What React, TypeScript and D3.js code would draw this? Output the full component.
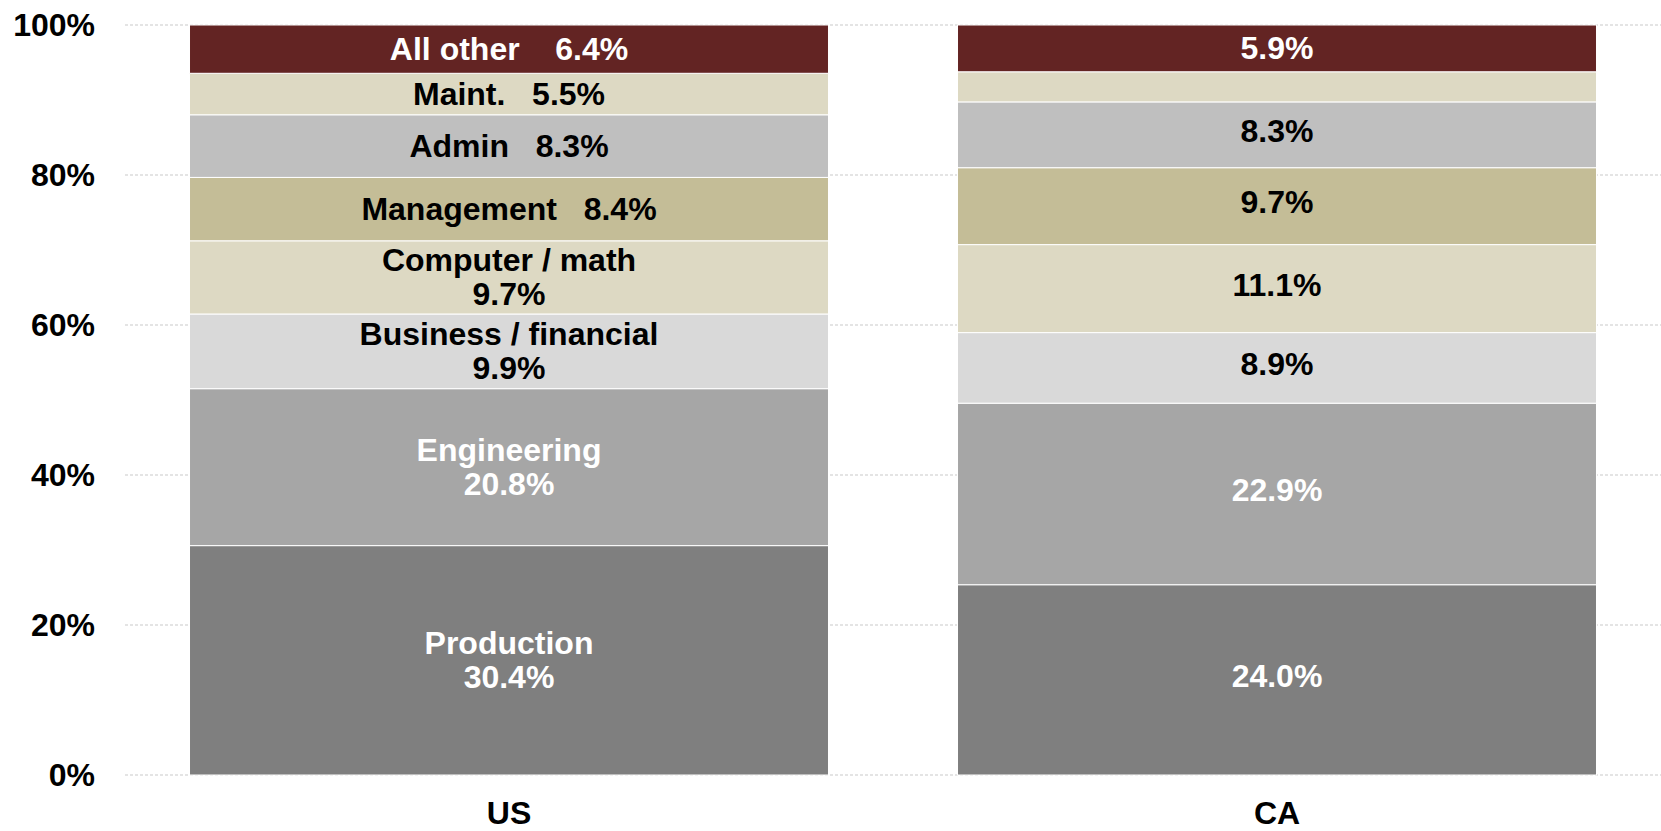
import React from "react";
import * as d3 from "d3";

const countries = ["US", "CA"];
const occupations = [
  "Production",
  "Engineering",
  "Business / financial",
  "Computer / math",
  "Management",
  "Admin",
  "Maint.",
  "All other",
];
const usValues = [30.4, 20.8, 9.9, 9.7, 8.4, 8.3, 5.5, 6.4];
const caValues = [24.0, 22.9, 8.9, 11.1, 9.7, 8.3, 3.8, 5.9];
const yTickValues = [0, 0.2, 0.4, 0.6, 0.8, 1.0];
const yTickLabels = ["0%", "20%", "40%", "60%", "80%", "100%"];

// label layout for the US bar: name above value ("stack") or on one line ("inline")
const usLabelMode = ["stack", "stack", "stack", "stack", "inline", "inline", "inline", "inline"];
// CA shows only values; the maint. value is not printed
const caShowLabel = [true, true, true, true, true, true, false, true];

const colors = ["#7f7f7f", "#a6a6a6", "#d9d9d9", "#ddd9c3", "#c4bd97", "#bfbfbf", "#ddd9c3", "#632423"];
const textColors = ["#fff", "#fff", "#000", "#000", "#000", "#000", "#000", "#fff"];

const W = 1661;
const H = 831;
const FONT = "'Liberation Sans', Arial, Helvetica, sans-serif";
const FS = 32;

export default function App() {
  const rows = countries.map((c, i) => {
    const vals = i === 0 ? usValues : caValues;
    const r: any = { country: c };
    occupations.forEach((o, j) => (r[o] = vals[j]));
    return r;
  });
  const stack = d3.stack<any>().keys(occupations).offset(d3.stackOffsetExpand);
  const series = stack(rows);

  const x = d3.scaleBand<string>().domain(countries).range([125, 1661]).paddingInner(0.168).paddingOuter(0.084);
  const y = d3.scaleLinear().domain([0, 1]).range([775, 25]);

  const bw = x.bandwidth();

  return (
    <svg width={W} height={H} style={{ position: "absolute", left: 0, top: 0, background: "#fff" }}>
      {yTickValues.map((t, i) => (
        <g key={"t" + i}>
          <line x1={125} x2={W} y1={y(t)} y2={y(t)} stroke="#c9c9c9" strokeWidth={1} strokeDasharray="3,2" />
          <text
            x={95}
            y={y(t) + 11}
            textAnchor="end"
            fontFamily={FONT}
            fontWeight="bold"
            fontSize={FS}
            fill="#000"
          >
            {yTickLabels[i]}
          </text>
        </g>
      ))}
      {series.map((s, si) => (
        <g key={"s" + si}>
          {s.map((d, ci) => {
            const x0 = x(countries[ci]) as number;
            const yTop = y(d[1]);
            const yBot = y(d[0]);
            return (
              <rect
                key={ci}
                x={x0}
                y={yTop}
                width={bw}
                height={yBot - yTop}
                fill={colors[si]}
                stroke="#fff"
                strokeWidth={1}
              />
            );
          })}
        </g>
      ))}
      {series.map((s, si) =>
        s.map((d, ci) => {
          const cx = (x(countries[ci]) as number) + bw / 2;
          const cy = (y(d[0]) + y(d[1])) / 2;
          const vals = ci === 0 ? usValues : caValues;
          const valText = vals[si].toFixed(1) + "%";
          const common = {
            textAnchor: "middle" as const,
            fontFamily: FONT,
            fontWeight: "bold",
            fontSize: FS,
            fill: textColors[si],
            style: { whiteSpace: "pre" as const },
          };
          if (ci === 1) {
            if (!caShowLabel[si]) return null;
            const off = si === occupations.length - 1 ? 11 : 7;
            return (
              <text key={"l" + si + ci} x={cx} y={cy + off} {...common}>
                {valText}
              </text>
            );
          }
          if (usLabelMode[si] === "inline") {
            const gap = si === 7 ? "\u00a0\u00a0\u00a0\u00a0" : "\u00a0\u00a0\u00a0";
            return (
              <text key={"l" + si + ci} x={cx} y={cy + 11} {...common}>
                {occupations[si] + gap + valText}
              </text>
            );
          }
          return (
            <text key={"l" + si + ci} {...common}>
              <tspan x={cx} y={cy - 17 + 11}>
                {occupations[si]}
              </tspan>
              <tspan x={cx} y={cy + 17 + 11}>
                {valText}
              </tspan>
            </text>
          );
        })
      )}
      {countries.map((c) => (
        <text
          key={"x" + c}
          x={(x(c) as number) + bw / 2}
          y={824}
          textAnchor="middle"
          fontFamily={FONT}
          fontWeight="bold"
          fontSize={FS}
          fill="#000"
        >
          {c}
        </text>
      ))}
    </svg>
  );
}
